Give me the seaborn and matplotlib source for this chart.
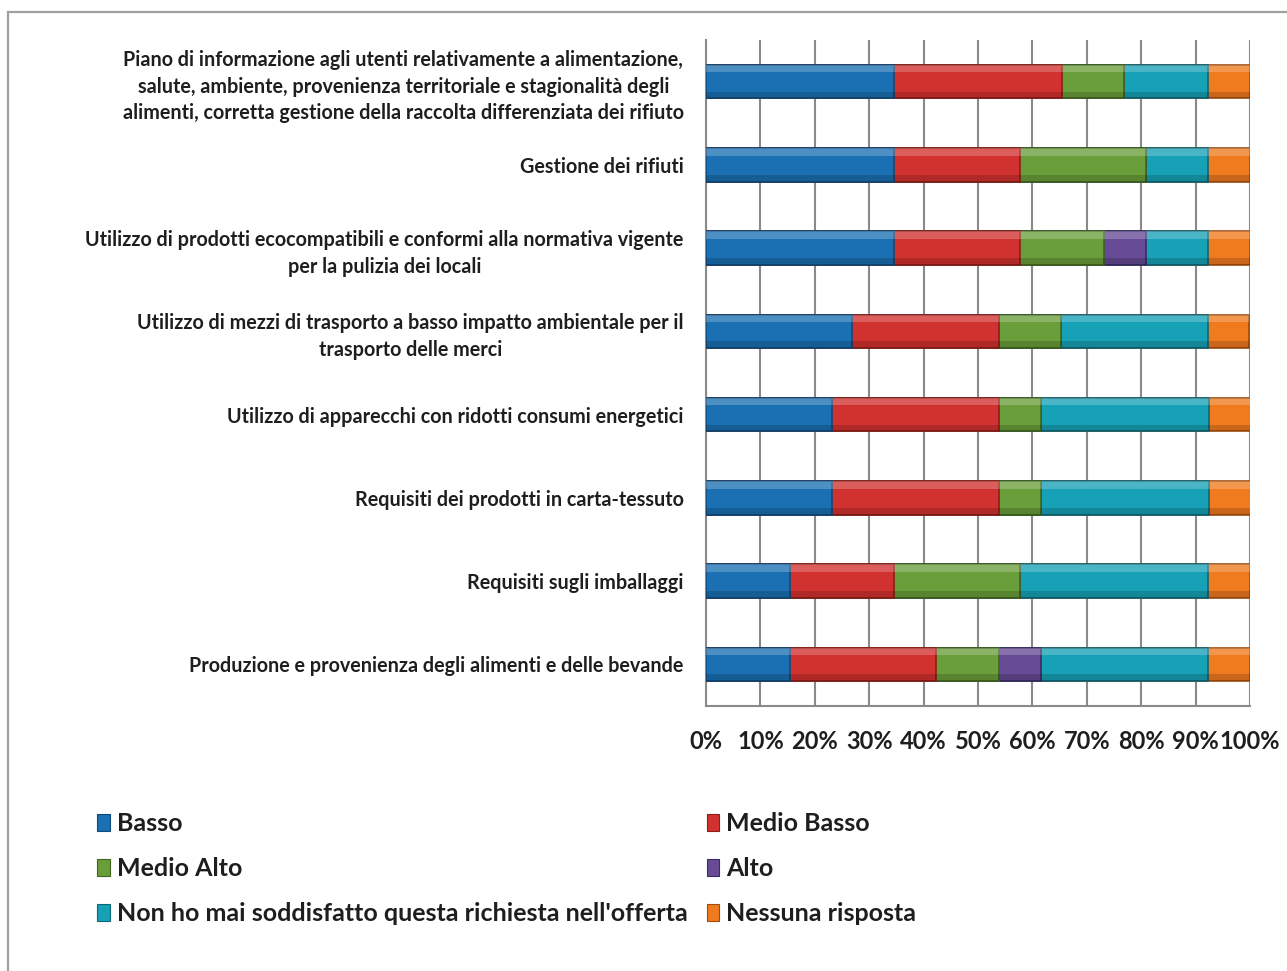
import matplotlib
matplotlib.use("Agg")
import matplotlib.pyplot as plt
from matplotlib.patches import Rectangle, Patch
from matplotlib.ticker import FixedLocator, PercentFormatter
import numpy as np
import pandas as pd
import seaborn as sns

# ---- data (percent of respondents) ----
categories = [
    "Piano di informazione agli utenti relativamente a alimentazione,\nsalute, ambiente, provenienza territoriale e stagionalità degli\nalimenti, corretta gestione della raccolta differenziata dei rifiuto",
    "Gestione dei rifiuti",
    "Utilizzo di prodotti ecocompatibili e conformi alla normativa vigente\nper la pulizia dei locali",
    "Utilizzo di mezzi di trasporto a basso impatto ambientale per il\ntrasporto delle merci",
    "Utilizzo di apparecchi con ridotti consumi energetici",
    "Requisiti dei prodotti in carta-tessuto",
    "Requisiti sugli imballaggi",
    "Produzione e provenienza degli alimenti e delle bevande",
]
series_names = ["Basso", "Medio Basso", "Medio Alto", "Alto",
                "Non ho mai soddisfatto questa richiesta nell'offerta", "Nessuna risposta"]
basso       = [34.6, 34.6, 34.6, 26.9, 23.1, 23.1, 15.4, 15.4]
medio_basso = [30.8, 23.1, 23.1, 26.9, 30.8, 30.8, 19.2, 26.9]
medio_alto  = [11.5, 23.1, 15.4, 11.5,  7.7,  7.7, 23.1, 11.5]
alto        = [ 0.0,  0.0,  7.7,  0.0,  0.0,  0.0,  0.0,  7.7]
non_ho      = [15.4, 11.5, 11.5, 26.9, 30.8, 30.8, 34.6, 30.8]
nessuna     = [ 7.7,  7.7,  7.7,  7.7,  7.7,  7.7,  7.7,  7.7]
x_ticks = [0, 10, 20, 30, 40, 50, 60, 70, 80, 90, 100]

colors = ["#1A70B2", "#D2322F", "#6A9E3A", "#674B96", "#17A1B6", "#F07A1E"]
edges  = ["#0E4A7A", "#8E1C1A", "#3F6620", "#3E2A63", "#0B6676", "#A04C0C"]
BAR_W = 0.4

sns.set_style("white")
plt.rcParams["font.family"] = ["Lato", "DejaVu Sans"]
plt.rcParams["font.weight"] = "bold"

W, H = 1287, 971
fig = plt.figure(figsize=(W / 100, H / 100), dpi=100)
ax = fig.add_axes([706 / W, 1 - 706 / H, (1250 - 706) / W, (706 - 40) / H])

values = [basso, medio_basso, medio_alto, alto, non_ho, nessuna]
df = pd.DataFrame({n: v for n, v in zip(series_names, values)}, index=categories)
cum = df.cumsum(axis=1)

# draw cumulative totals from the last series to the first so each overlays the next
for i in range(len(series_names) - 1, -1, -1):
    name = series_names[i]
    sub = pd.DataFrame({"cat": categories, "val": cum[name].values})
    sns.barplot(data=sub, x="val", y="cat", orient="h", color=colors[i],
                saturation=1, width=BAR_W, edgecolor=edges[i], linewidth=1.2,
                ax=ax, zorder=3)

# bevel shading for each visible segment (derived from the data)
for j in range(len(categories)):
    left = 0.0
    for i, name in enumerate(series_names):
        v = df.iloc[j, i]
        if v > 0:
            top = j - BAR_W / 2
            ax.add_patch(Rectangle((left, top), v, BAR_W * 0.22, facecolor="white",
                                   alpha=0.22, linewidth=0, zorder=4))
            ax.add_patch(Rectangle((left, j + BAR_W / 2 - BAR_W * 0.2), v, BAR_W * 0.2,
                                   facecolor="black", alpha=0.16, linewidth=0, zorder=4))
        left += v

ax.set_xlim(0, 100)
ax.set_ylim(7.5, -0.5)
ax.set_xlabel("")
ax.set_ylabel("")
ax.xaxis.set_major_locator(FixedLocator(x_ticks))
ax.xaxis.set_major_formatter(PercentFormatter(decimals=0))
ax.grid(axis="x", color="#8a8a8a", linewidth=1.5, zorder=0)
ax.set_axisbelow(True)
for s in ["top", "right"]:
    ax.spines[s].set_visible(False)
for s in ["left", "bottom"]:
    ax.spines[s].set_color("#8a8a8a")
    ax.spines[s].set_linewidth(1.5)

ax.tick_params(axis="x", which="major", length=8, width=1.5, color="#8a8a8a",
               direction="out", labelsize=17, pad=9, labelcolor="#1e1e1e")
ax.tick_params(axis="y", which="major", length=0, labelsize=14.2, pad=16,
               labelcolor="#1e1e1e")
ax.set_yticks(np.arange(-0.5, 8.0, 1.0), minor=True)
ax.tick_params(axis="y", which="minor", length=6, width=1.5, color="#8a8a8a",
               direction="out")
for lbl in ax.get_yticklabels():
    lbl.set_multialignment("center")
    lbl.set_linespacing(1.4)
    lbl.set_fontweight("bold")
for lbl in ax.get_xticklabels():
    lbl.set_fontweight("bold")

# legend (row-major order)
handles = [Patch(facecolor=c, edgecolor=e, linewidth=0.8) for c, e in zip(colors, edges)]
order = [0, 2, 4, 1, 3, 5]
fig.legend([handles[k] for k in order], [series_names[k] for k in order],
           loc="upper left", bbox_to_anchor=(97 / W, 1 - 812 / H), ncol=2,
           frameon=False, handlelength=0.5, handleheight=0.65,
           handletextpad=0.3, columnspacing=0.75, labelspacing=0.88,
           borderpad=0, borderaxespad=0, prop={"weight": "bold", "size": 18})
for t in fig.legends[0].get_texts():
    t.set_color("#1e1e1e")

# outer chart border
fig.add_artist(Rectangle((8 / W, -0.05), 1.1, 1.05 - 12 / H, transform=fig.transFigure,
                         fill=False, edgecolor="#a0a0a0", linewidth=1.6))

fig.savefig("out.png", dpi=100)
